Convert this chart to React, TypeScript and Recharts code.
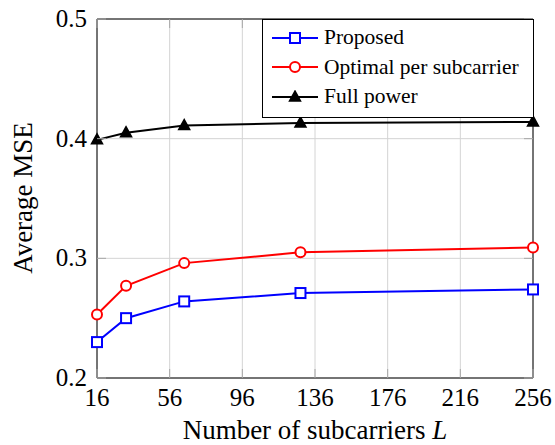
import React from 'react';
import { LineChart, Line, XAxis, YAxis, CartesianGrid, ReferenceLine, Label } from 'recharts';

// x values: number of subcarriers L
const subcarriers = [16, 32, 64, 128, 256];
// average MSE per scheme
const proposed = [0.230, 0.250, 0.264, 0.271, 0.274];
const optimal = [0.253, 0.277, 0.296, 0.305, 0.309];
const fullPower = [0.399, 0.405, 0.411, 0.413, 0.414];

const xTicks = [16, 56, 96, 136, 176, 216, 256];
const yTicks = [0.2, 0.3, 0.4, 0.5];

const FONT = 'Liberation Serif';

// plot frame, follows from the chart margins and axis sizes below
const TOP = 19;
const BOTTOM = 378;
const LEFT = 97;
const RIGHT = 533;
const TICK_LEN = 9;
const TICK_COLOR = '#a8a8a8';

const data = subcarriers.map((L, i) => ({
  L,
  proposed: proposed[i],
  optimal: optimal[i],
  full: fullPower[i],
}));

type Marker = 'square' | 'circle' | 'triangle';

const drawMarker = (kind: Marker, color: string, cx: number, cy: number, key?: string) => {
  if (kind === 'square') {
    return <rect key={key} x={cx - 5} y={cy - 5} width={10} height={10} fill="white" stroke={color} strokeWidth={2} />;
  }
  if (kind === 'circle') {
    return <circle key={key} cx={cx} cy={cy} r={5} fill="white" stroke={color} strokeWidth={2} />;
  }
  return (
    <polygon
      key={key}
      points={`${cx},${cy - 6} ${cx - 5.5},${cy + 4} ${cx + 5.5},${cy + 4}`}
      fill={color}
      stroke={color}
      strokeWidth={1.5}
    />
  );
};

const series: { key: string; name: string; color: string; marker: Marker }[] = [
  { key: 'proposed', name: 'Proposed', color: '#0000ff', marker: 'square' },
  { key: 'optimal', name: 'Optimal per subcarrier', color: '#ff0000', marker: 'circle' },
  { key: 'full', name: 'Full power', color: '#000000', marker: 'triangle' },
];

// tick label plus pgfplots-style inward tick marks on bottom and top
const XTick = ({ x, y, payload }: any) => (
  <g>
    <line x1={x} y1={BOTTOM} x2={x} y2={BOTTOM - TICK_LEN} stroke={TICK_COLOR} />
    <line x1={x} y1={TOP} x2={x} y2={TOP + TICK_LEN} stroke={TICK_COLOR} />
    <text x={x} y={y + 20} textAnchor="middle" style={{ fontFamily: FONT, fontSize: 25 }} fill="#000">
      {payload.value}
    </text>
  </g>
);

const YTick = ({ x, y, payload }: any) => (
  <g>
    <line x1={LEFT} y1={y} x2={LEFT + TICK_LEN} y2={y} stroke={TICK_COLOR} />
    <line x1={RIGHT} y1={y} x2={RIGHT - TICK_LEN} y2={y} stroke={TICK_COLOR} />
    <text x={x - 2} y={y + 8} textAnchor="end" style={{ fontFamily: FONT, fontSize: 25 }} fill="#000">
      {Number(payload.value).toFixed(1)}
    </text>
  </g>
);

const LegendBox = () => (
  <div
    style={{
      position: 'absolute',
      left: 262,
      top: 19,
      border: '1px solid black',
      background: 'white',
      width: 272,
      height: 99,
      boxSizing: 'border-box',
      padding: '3px 0 0 9px',
      fontFamily: FONT,
      fontSize: 21.5,
    }}
  >
    {series.map((s) => (
      <div key={s.key} style={{ display: 'flex', alignItems: 'center', height: 29.5 }}>
        <svg width={46} height={14} style={{ marginRight: 6 }}>
          <line x1={0} y1={7} x2={46} y2={7} stroke={s.color} strokeWidth={2} />
          {drawMarker(s.marker, s.color, 23, 7)}
        </svg>
        <span>{s.name}</span>
      </div>
    ))}
  </div>
);

export default function App() {
  return (
    <div style={{ position: 'absolute', left: 0, top: 0, width: 555, height: 445, background: 'white' }}>
      <LineChart width={555} height={445} data={data} margin={{ top: TOP, right: 555 - RIGHT, left: 0, bottom: 0 }}>
        <CartesianGrid stroke="#d4d4d4" strokeWidth={1} />
        <XAxis
          dataKey="L"
          type="number"
          domain={[16, 256]}
          ticks={xTicks}
          height={445 - BOTTOM}
          tickLine={false}
          axisLine={{ stroke: '#000' }}
          tick={<XTick />}
        >
          <Label
            content={({ viewBox }: any) => (
              <text
                x={viewBox.x + viewBox.width / 2}
                y={439}
                textAnchor="middle"
                style={{ fontFamily: FONT, fontSize: 27 }}
                fill="#000"
              >
                Number of subcarriers <tspan fontStyle="italic">L</tspan>
              </text>
            )}
          />
        </XAxis>
        <YAxis
          type="number"
          domain={[0.2, 0.5]}
          ticks={yTicks}
          width={LEFT}
          tickLine={false}
          axisLine={{ stroke: '#000' }}
          tick={<YTick />}
        >
          <Label
            content={() => (
              <text
                x={0}
                y={0}
                transform="translate(32,198) rotate(-90)"
                textAnchor="middle"
                style={{ fontFamily: FONT, fontSize: 27 }}
                fill="#000"
              >
                Average MSE
              </text>
            )}
          />
        </YAxis>
        <ReferenceLine y={0.5} stroke="#000" />
        <ReferenceLine x={256} stroke="#000" />
        {series.map((s) => (
          <Line
            key={s.key}
            dataKey={s.key}
            name={s.name}
            stroke={s.color}
            strokeWidth={2}
            isAnimationActive={false}
            dot={(p: any) => drawMarker(s.marker, s.color, p.cx, p.cy, `${s.key}-${p.index}`)}
            activeDot={false}
          />
        ))}
      </LineChart>
      <LegendBox />
    </div>
  );
}
